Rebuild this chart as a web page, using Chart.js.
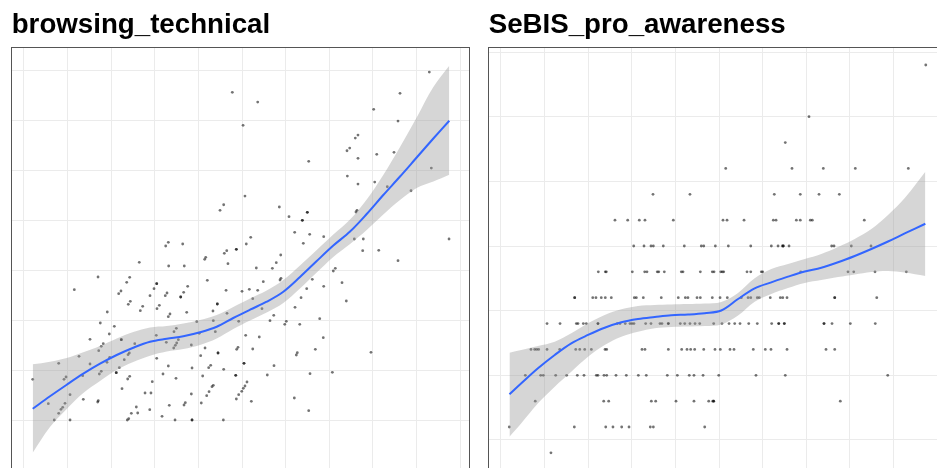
<!DOCTYPE html>
<html>
<head>
<meta charset="utf-8">
<script src="https://cdn.jsdelivr.net/npm/chart.js@4/dist/chart.umd.min.js"></script>
<style>
  html, body { margin: 0; padding: 0; background: #fff; overflow: hidden; width: 937px; height: 468px; }
  canvas { position: absolute; top: 0; }
  #techChart { left: 0; }
  #awareChart { left: 477px; }
</style>
</head>
<body>
<canvas id="techChart" width="477" height="490"></canvas>
<canvas id="awareChart" width="477" height="490"></canvas>
<script>
// ---- browsing_technical: observations ----
const techX = [
  5.648, 3.389, 3.680, 5.312, 3.512, 5.010, 5.289, 4.830, 4.799, 4.735,
  4.704, 5.045, 4.830, 5.243, 4.265, 5.671, 4.708, 5.022, 4.830, 5.166,
  5.438, 3.534, 3.248, 3.290, 3.928, 4.039, 4.249, 4.192, 4.819, 4.807,
  4.104, 4.276, 4.437, 3.600, 4.788, 4.891, 5.874, 2.655, 2.625, 2.820,
  3.549, 3.325, 3.297, 3.435, 4.884, 5.068, 4.203, 3.084, 3.072, 5.289,
  2.322, 3.339, 2.659, 2.838, 3.664, 3.893, 3.848, 3.944, 4.570, 4.547,
  1.849, 2.212, 2.178, 3.102, 3.947, 3.936, 4.306, 4.647, 2.522, 2.491,
  2.877, 3.744, 4.437, 1.577, 2.112, 2.086, 2.831, 2.640, 2.620, 3.317,
  3.500, 3.584, 3.680, 4.242, 2.797, 2.445, 3.623, 4.177, 2.219, 2.196,
  4.696, 3.217, 2.361, 2.334, 2.552, 2.525, 4.108, 1.955, 2.674, 2.655,
  2.866, 3.328, 3.167, 3.729, 3.864, 4.391, 1.875, 2.981, 3.171, 3.462,
  3.821, 4.008, 3.990, 4.162, 2.036, 2.747, 2.720, 3.010, 3.194, 1.978,
  2.517, 3.542, 3.698, 4.432, 1.757, 2.116, 2.770, 1.909, 1.886, 2.632,
  2.270, 2.751, 2.735, 2.717, 2.919, 3.076, 3.454, 3.439, 3.623, 4.341,
  1.857, 2.208, 2.193, 3.225, 4.134, 4.123, 4.979, 1.631, 1.983, 2.522,
  3.026, 2.150, 1.398, 1.757, 1.952, 2.093, 2.655, 2.927, 3.141, 3.118,
  3.290, 3.523, 3.867, 1.482, 1.459, 1.673, 1.886, 1.864, 2.058, 2.212,
  2.189, 2.594, 2.743, 3.049, 3.428, 3.790, 4.280, 4.536, 1.100, 2.471,
  3.557, 3.534, 3.515, 3.171, 3.156, 3.122, 3.095, 2.124, 2.388, 2.456,
  2.919, 3.497, 3.462, 3.435, 1.528, 1.680, 1.852, 1.845, 4.100, 3.607,
  1.279, 1.470, 1.444, 1.424, 1.398, 2.666, 2.850, 2.835, 3.033, 2.288,
  2.442, 2.231, 2.304, 4.265, 2.583, 1.347, 1.528, 2.201, 2.185, 2.732,
  2.927, 3.286,
  4.249, 4.192, 3.435, 2.522, 2.797, 3.217, 2.116, 3.225, 3.523, 2.058,
  3.428, 2.927
];
const techY = [
  4.480, 4.277, 4.180, 4.267, 3.947, 4.107, 3.990, 3.850, 3.820, 3.720,
  3.693, 3.657, 3.617, 3.677, 3.587, 3.520, 3.440, 3.380, 3.360, 3.333,
  3.293, 3.240, 3.097, 3.153, 3.130, 3.033, 3.077, 2.997, 3.097, 3.080,
  2.877, 2.857, 2.833, 2.827, 2.810, 2.810, 2.810, 2.777, 2.740, 2.760,
  2.760, 2.693, 2.667, 2.707, 2.693, 2.697, 2.767, 2.627, 2.607, 2.593,
  2.577, 2.563, 2.540, 2.540, 2.520, 2.573, 2.517, 2.650, 2.517, 2.490,
  2.430, 2.427, 2.377, 2.397, 2.417, 2.400, 2.407, 2.373, 2.363, 2.313,
  2.337, 2.383, 2.337, 2.303, 2.290, 2.263, 2.277, 2.270, 2.243, 2.297,
  2.287, 2.307, 2.297, 2.313, 2.230, 2.243, 2.213, 2.223, 2.187, 2.157,
  2.190, 2.160, 2.137, 2.093, 2.147, 2.113, 2.127, 2.080, 2.060, 2.033,
  2.077, 2.067, 2.090, 2.113, 2.047, 2.013, 1.970, 1.983, 1.993, 1.987,
  1.993, 1.987, 1.957, 1.957, 1.937, 1.917, 1.883, 1.867, 1.883, 1.860,
  1.847, 1.847, 1.830, 1.823, 1.807, 1.803, 1.803, 1.763, 1.737, 1.777,
  1.763, 1.770, 1.747, 1.720, 1.750, 1.720, 1.727, 1.707, 1.710, 1.707,
  1.693, 1.670, 1.653, 1.670, 1.673, 1.650, 1.677, 1.637, 1.627, 1.617,
  1.643, 1.603, 1.567, 1.560, 1.577, 1.523, 1.540, 1.520, 1.547, 1.523,
  1.507, 1.567, 1.543, 1.430, 1.407, 1.443, 1.487, 1.460, 1.473, 1.437,
  1.410, 1.460, 1.417, 1.440, 1.447, 1.450, 1.463, 1.477, 1.407, 1.383,
  1.380, 1.340, 1.317, 1.347, 1.333, 1.283, 1.243, 1.313, 1.270, 1.270,
  1.260, 1.287, 1.253, 1.210, 1.253, 1.207, 1.193, 1.180, 1.220, 1.187,
  1.163, 1.167, 1.127, 1.107, 1.067, 1.147, 1.173, 1.150, 1.170, 1.130,
  1.103, 1.067, 1.070, 1.093, 1.037, 1.000, 1.000, 1.013, 1.000, 1.000,
  1.000, 1.000,
  3.077, 2.997, 2.707, 2.363, 2.230, 2.160, 1.803, 1.670, 1.567, 1.473,
  1.447, 1.000
];

// ---- browsing_technical: loess fit with 95% band ----
const techFitX  = [1.100, 1.298, 1.490, 1.680, 1.872, 2.063, 2.253, 2.445, 2.637, 2.827, 3.018, 3.210, 3.400,
                   3.592, 3.783, 3.974, 4.165, 4.357, 4.547, 4.739, 4.930, 5.120, 5.312, 5.503, 5.694, 5.877];
const techFit   = [1.113, 1.237, 1.353, 1.463, 1.563, 1.650, 1.723, 1.783, 1.813, 1.837, 1.877, 1.933, 2.020,
                   2.103, 2.183, 2.283, 2.430, 2.590, 2.745, 2.885, 3.060, 3.250, 3.435, 3.625, 3.815, 3.993];
const techUpper = [1.557, 1.583, 1.620, 1.677, 1.740, 1.815, 1.880, 1.925, 1.940, 1.965, 2.000, 2.050, 2.130,
                   2.215, 2.295, 2.400, 2.545, 2.700, 2.855, 3.005, 3.205, 3.450, 3.730, 4.025, 4.330, 4.543];
const techLower = [0.673, 0.930, 1.110, 1.270, 1.390, 1.500, 1.580, 1.643, 1.685, 1.710, 1.750, 1.815, 1.910,
                   1.995, 2.075, 2.170, 2.315, 2.475, 2.630, 2.760, 2.900, 3.055, 3.200, 3.320, 3.385, 3.453];

// ---- SeBIS_pro_awareness: observations, grouped by score level ----
const awareLevels = [4.4, 4.0, 3.8, 3.6, 3.4, 3.2, 3.0, 2.8, 2.6, 2.4, 2.2, 2.0, 1.8, 1.6, 1.4];
const awareXByLevel = [
  [5.871],
  [4.532],
  [4.260],
  [3.577, 4.337, 4.696, 5.063, 5.671],
  [2.743, 3.167, 4.134, 4.432, 4.647, 4.880],
  [2.307, 2.453, 2.586, 2.651, 2.976, 3.546, 3.592, 3.787, 4.123, 4.154, 4.387, 4.432, 4.547, 4.570, 5.166],
  [2.522, 2.640, 2.720, 2.747, 2.861, 3.102, 3.297, 3.325, 3.458, 3.607, 3.864, 4.100, 4.177, 4.226, 4.237,
   4.237, 4.303, 4.792, 4.819, 5.017, 5.243],
  [2.116, 2.196, 2.208, 2.506, 2.648, 2.674, 2.792, 2.809, 2.873, 3.068, 3.087, 3.286, 3.423, 3.443, 3.520,
   3.538, 3.554, 3.821, 3.864, 3.985, 4.001, 4.437, 4.979, 5.045, 5.289, 5.648],
  [1.845, 1.845, 2.052, 2.089, 2.150, 2.196, 2.265, 2.529, 2.552, 2.632, 2.838, 3.033, 3.114, 3.144, 3.248,
   3.286, 3.423, 3.512, 3.595, 3.756, 3.833, 3.864, 3.939, 3.962, 4.088, 4.203, 4.231, 4.280, 4.827, 4.827, 5.309],
  [1.528, 1.677, 1.864, 1.883, 1.944, 1.978, 2.112, 2.112, 2.334, 2.365, 2.425, 2.479, 2.502, 2.525, 2.659,
   2.720, 2.823, 2.846, 2.919, 2.919, 3.056, 3.107, 3.167, 3.225, 3.279, 3.439, 3.534, 3.615, 3.680, 3.741,
   3.841, 3.939, 4.104, 4.185, 4.185, 4.249, 4.249, 4.704, 4.704, 4.796, 5.006, 5.292],
  [1.344, 1.386, 1.409, 1.432, 1.528, 1.673, 1.857, 1.903, 1.960, 2.036, 2.193, 2.212, 2.617, 2.651, 2.919,
   3.072, 3.133, 3.175, 3.221, 3.325, 3.454, 3.515, 3.626, 3.672, 3.893, 4.031, 4.096, 4.280, 4.727, 4.827],
  [1.279, 1.455, 1.485, 1.627, 1.753, 1.875, 1.952, 2.093, 2.112, 2.181, 2.212, 2.319, 2.437, 2.575, 2.666,
   2.907, 3.022, 3.159, 3.213, 3.317, 3.497, 3.924, 4.260, 5.435],
  [1.393, 2.178, 2.235, 2.724, 2.774, 3.007, 3.213, 3.382, 3.428, 3.439, 3.439, 4.891],
  [1.095, 1.841, 2.201, 2.284, 2.384, 2.468, 2.712, 2.747, 3.336],
  [1.573]
];

// ---- SeBIS_pro_awareness: loess fit with 95% band ----
const awareFitX  = [1.097, 1.233, 1.424, 1.616, 1.806, 1.998, 2.189, 2.380, 2.571, 2.763, 2.953, 3.144, 3.336,
                    3.526, 3.718, 3.909, 4.100, 4.291, 4.483, 4.673, 4.865, 5.056, 5.247, 5.438, 5.630, 5.866];
const awareFit   = [1.853, 1.938, 2.054, 2.157, 2.247, 2.312, 2.368, 2.410, 2.435, 2.451, 2.465, 2.470, 2.480,
                    2.501, 2.590, 2.673, 2.719, 2.763, 2.803, 2.832, 2.874, 2.923, 2.977, 3.035, 3.097, 3.172];
const awareUpper = [2.175, 2.196, 2.227, 2.260, 2.325, 2.402, 2.466, 2.510, 2.536, 2.544, 2.548, 2.551, 2.555,
                    2.567, 2.637, 2.750, 2.822, 2.861, 2.899, 2.938, 2.992, 3.054, 3.131, 3.240, 3.371, 3.575];
const awareLower = [1.525, 1.629, 1.783, 1.912, 2.028, 2.144, 2.234, 2.299, 2.337, 2.364, 2.374, 2.377, 2.381,
                    2.393, 2.462, 2.569, 2.629, 2.675, 2.714, 2.737, 2.760, 2.780, 2.799, 2.807, 2.795, 2.768];

// ---- shared helpers ----
const zip = (xs, ys) => xs.map((x, i) => ({ x, y: ys[i] }));

const awarePoints = [];
awareLevels.forEach((lvl, i) => awareXByLevel[i].forEach(x => awarePoints.push({ x, y: lvl })));

// frame drawn around each panel, like a facet border
const panelBorder = {
  id: 'panelBorder',
  afterDraw(chart) {
    const { ctx, chartArea: a } = chart;
    ctx.save();
    ctx.strokeStyle = '#555555';
    ctx.lineWidth = 1;
    const l = Math.floor(a.left) + 0.5, t = Math.floor(a.top) + 0.5;
    const r = Math.floor(a.right) + 0.5, b = Math.floor(a.bottom) + 0.5;
    ctx.strokeRect(l, t, r - l, b - t);
    ctx.restore();
  }
};

const X_MIN = 0.859, X_MAX = 6.103;

function panel(canvasId, title, points, fitX, fit, lower, upper, yMin, yMax) {
  const gridOpts = { color: '#ebebeb', lineWidth: 1, drawTicks: false };
  return new Chart(document.getElementById(canvasId), {
    type: 'scatter',
    data: {
      datasets: [
        { label: 'fit', data: zip(fitX, fit), showLine: true, borderColor: '#3366FF', borderWidth: 2,
          pointRadius: 0, tension: 0.35, fill: false, order: 0 },
        { label: 'upper', data: zip(fitX, upper), showLine: true, borderColor: 'rgba(0,0,0,0)', borderWidth: 1,
          pointRadius: 0, tension: 0.35, fill: '+1', backgroundColor: 'rgba(153,153,153,0.4)', order: 1 },
        { label: 'lower', data: zip(fitX, lower), showLine: true, borderColor: 'rgba(0,0,0,0)', borderWidth: 1,
          pointRadius: 0, tension: 0.35, fill: false, order: 1 },
        { label: 'obs', data: points, pointRadius: 1.4, pointBorderWidth: 0,
          pointBackgroundColor: 'rgba(0,0,0,0.55)', order: 2 }
      ]
    },
    options: {
      responsive: false,
      animation: false,
      devicePixelRatio: 1,
      events: [],
      layout: { padding: { left: 11.7, right: 8, top: 0, bottom: 18 } },
      plugins: {
        legend: { display: false },
        tooltip: { enabled: false },
        title: {
          display: true, text: title, align: 'start', color: '#000',
          font: { family: "'Liberation Sans', Arial, sans-serif", size: 27.7, weight: 'bold', lineHeight: 1.2 },
          padding: { top: 8.8, bottom: 5 }
        }
      },
      scales: {
        x: { type: 'linear', min: X_MIN, max: X_MAX,
             ticks: { display: false, stepSize: 0.5, includeBounds: false },
             grid: gridOpts, border: { display: false } },
        y: { type: 'linear', min: yMin, max: yMax,
             ticks: { display: false, stepSize: 0.5, includeBounds: false },
             grid: gridOpts, border: { display: false } }
      }
    },
    plugins: [panelBorder]
  });
}

panel('techChart', 'browsing_technical', zip(techX, techY),
      techFitX, techFit, techLower, techUpper, 0.48, 4.73);
panel('awareChart', 'SeBIS_pro_awareness', awarePoints,
      awareFitX, awareFit, awareLower, awareUpper, 1.252, 4.539);
</script>
</body>
</html>
